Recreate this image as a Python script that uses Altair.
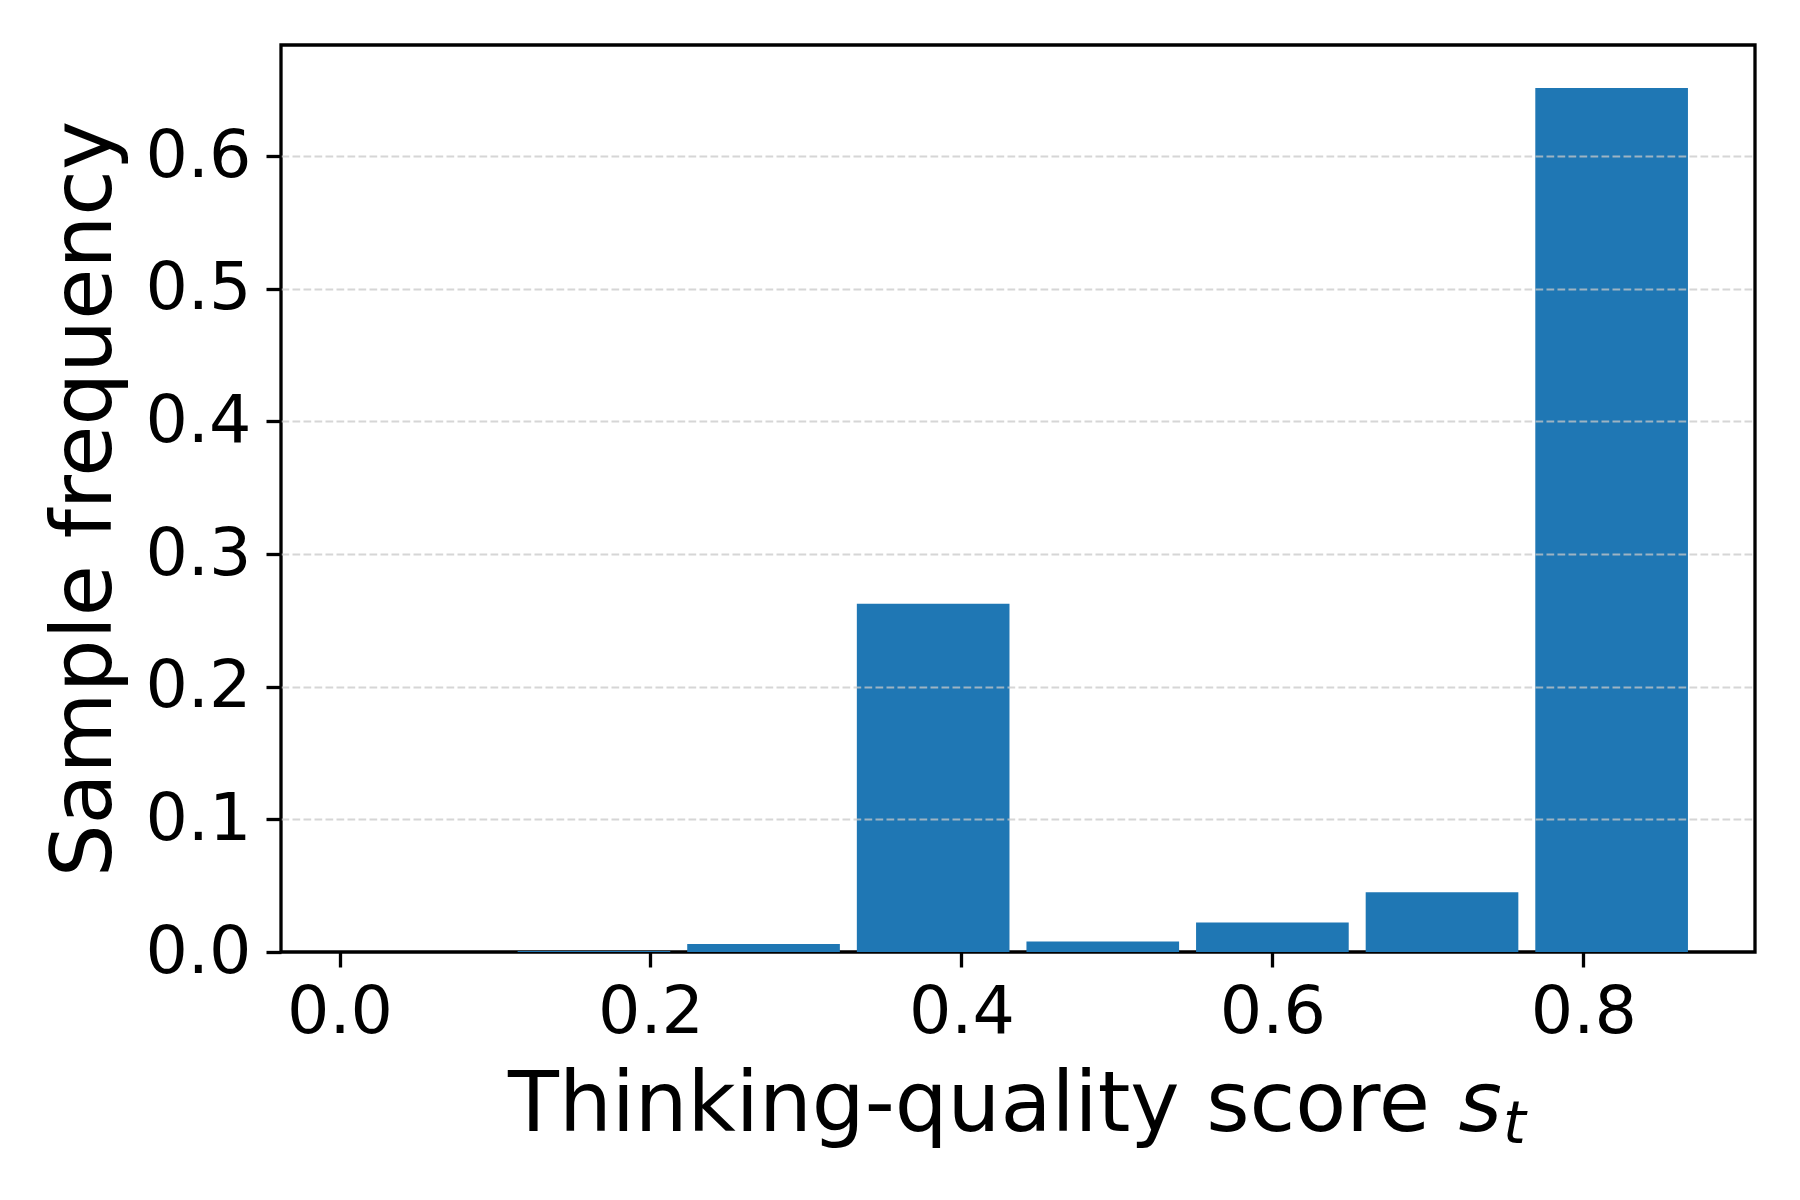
import altair as alt
import pandas as pd

# Histogram bins (score ranges) and the frequency
bin_lo = [0.0, 0.10909, 0.21818, 0.32727, 0.43636, 0.54545, 0.65455, 0.76364]
bin_hi = [0.10909, 0.21818, 0.32727, 0.43636, 0.54545, 0.65455, 0.76364, 0.87273]
freq = [0.0, 0.0008, 0.006, 0.2625, 0.008, 0.0223, 0.045, 0.6513]

x_ticks = [0.0, 0.2, 0.4, 0.6, 0.8]
y_ticks = [0.0, 0.1, 0.2, 0.3, 0.4, 0.5, 0.6]

x_title_main = "Thinking-quality score"
x_title_var = "s"
x_title_sub = "t"
y_title = "Sample frequency"

df = pd.DataFrame({"lo": bin_lo, "hi": bin_hi, "freq": freq})

W, H = 1474, 907
FONT = "DejaVu Sans"
LABEL_FS = 66.7
TITLE_FS = 83.3

x_scale = alt.Scale(domain=[-0.03764, 0.9104], nice=False, zero=False)
y_scale = alt.Scale(domain=[0, 0.6837], nice=False)

bars = (
    alt.Chart(df)
    .transform_calculate(
        x0="datum.lo + 0.05*(datum.hi - datum.lo)",
        x1="datum.hi - 0.05*(datum.hi - datum.lo)",
    )
    .mark_bar(color="#1f77b4", stroke=None)
    .encode(
        x=alt.X(
            "x0:Q",
            scale=x_scale,
            axis=alt.Axis(
                values=x_ticks,
                format=".1f",
                title=None,
                grid=False,
                domain=False,
                ticks=True,
                tickColor="black",
                tickWidth=3.3,
                tickSize=15,
                labelFont=FONT,
                labelFontSize=LABEL_FS,
                labelColor="black",
                labelPadding=12,
                labelFlush=False,
                labelOverlap=False,
            ),
        ),
        x2="x1:Q",
        y=alt.Y(
            "freq:Q",
            scale=y_scale,
            axis=alt.Axis(
                values=y_ticks,
                format=".1f",
                title=y_title,
                titleFont=FONT,
                titleFontSize=TITLE_FS,
                titleFontWeight="normal",
                titleColor="black",
                titleAngle=-90,
                titleBaseline="alphabetic",
                titleAlign="center",
                titleX=-171,
                titleY=H / 2,
                grid=True,
                gridColor="#c8c8c8",
                gridOpacity=alt.condition("datum.value === 0", alt.value(0), alt.value(0.75)),
                gridWidth=2,
                gridDash=[7.7, 3.3],
                domain=False,
                tickColor="black",
                tickWidth=3.3,
                tickSize=15,
                labelFont=FONT,
                labelFontSize=LABEL_FS,
                labelColor="black",
                labelPadding=15,
                labelFlush=False,
                labelOverlap=False,
                labelBaseline="middle",
                zindex=1,
            ),
        ),
        y2=alt.datum(0),
    )
)

t_main = (
    alt.Chart(pd.DataFrame({"t": [x_title_main]}))
    .mark_text(align="left", baseline="alphabetic", font=FONT, fontSize=TITLE_FS, color="black")
    .encode(x=alt.value(227), y=alt.value(1086), text="t:N")
)
t_var = (
    alt.Chart(pd.DataFrame({"t": [x_title_var]}))
    .mark_text(align="left", baseline="alphabetic", font=FONT, fontSize=TITLE_FS,
               fontStyle="italic", color="black")
    .encode(x=alt.value(1177.6), y=alt.value(1086), text="t:N")
)
t_sub = (
    alt.Chart(pd.DataFrame({"t": [x_title_sub]}))
    .mark_text(align="left", baseline="alphabetic", font=FONT, fontSize=58.3,
               fontStyle="italic", color="black")
    .encode(x=alt.value(1222), y=alt.value(1098), text="t:N")
)

chart = (
    alt.layer(bars, t_main, t_var, t_sub)
    .properties(
        width=W,
        height=H,
        autosize=alt.AutoSizeParams(type="none"),
        padding={"left": 273, "top": 37, "right": 30, "bottom": 230},
        background="white",
    )
    .configure_view(stroke="black", strokeWidth=3.3)
)

chart.save("out.html", embed_options={"renderer": "svg", "actions": False})
